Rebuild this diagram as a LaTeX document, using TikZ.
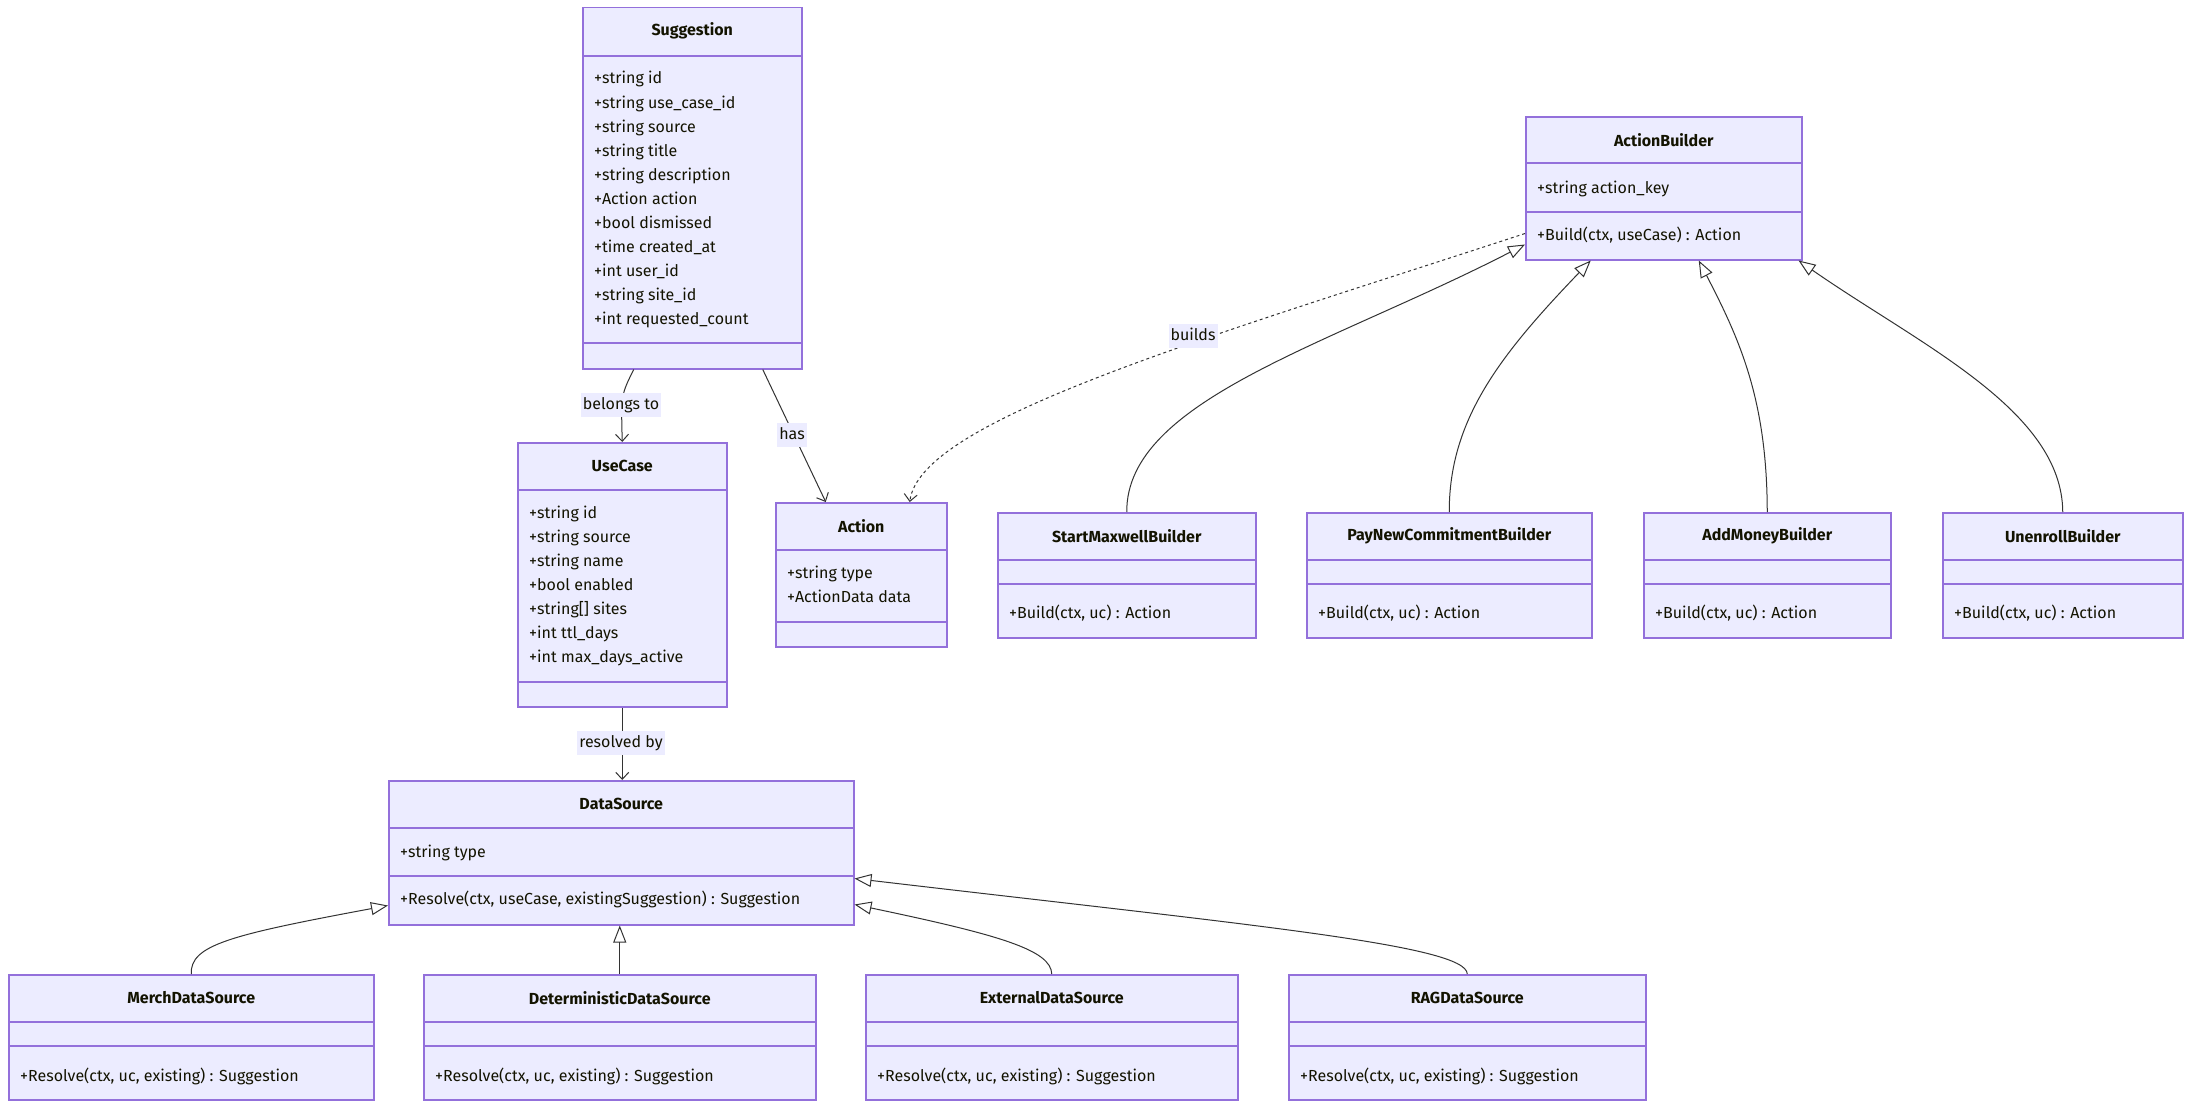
\documentclass[tikz,border=0pt]{standalone}
\usepackage{fontspec}
\setmainfont{Fira Sans}
\usetikzlibrary{arrows.meta}
\definecolor{clsfill}{HTML}{ECECFF}
\definecolor{clsline}{HTML}{9370DB}
\definecolor{edgeline}{HTML}{333333}
\definecolor{txtcol}{HTML}{131300}
\tikzset{
  clsbox/.style={draw=clsline,fill=clsfill,line width=1.5pt,anchor=north west,inner sep=0pt},
  divline/.style={draw=clsline,line width=1.5pt},
  clstitle/.style={font=\fontsize{16}{19}\selectfont\bfseries,text=txtcol},
  member/.style={font=\fontsize{16}{19}\selectfont,text=txtcol,anchor=west,
    text height=11pt,text depth=3pt,inner sep=0pt},
  edgelbl/.style={font=\fontsize{16}{19}\selectfont,text=txtcol,fill=clsfill,
    text height=11pt,text depth=3pt,inner xsep=2pt,inner ysep=5pt},
  assoc/.style={draw=edgeline,line width=1pt,-{Straight Barb[length=7pt,width=13pt]}},
  dep/.style={assoc,dash pattern=on 3pt off 3pt},
  inh/.style={draw=edgeline,line width=1pt,-{Triangle[open,length=17pt,width=13pt]}}
}
\begin{document}
\begin{tikzpicture}[x=1pt,y=-1pt]
\path[use as bounding box,fill=white] (0,0) rectangle (2192,1108);
\foreach \nm/\xx/\yy/\ww/\hh/\da/\db/\ttl in
  {sugg/582/7/219/361/56/343/Suggestion, usec/517/442/209/264/490/682/UseCase,
   act/775/502/171/144/550/622/Action, abld/1525/116/276/143/163/212/ActionBuilder,
   dsrc/388/780/465/144/828/876/DataSource,
   smax/997/512/258/125/560/584/StartMaxwellBuilder,
   paynew/1306/512/285/125/560/584/PayNewCommitmentBuilder,
   addm/1643/512/247/125/560/584/AddMoneyBuilder,
   unen/1942/512/240/125/560/584/UnenrollBuilder,
   merch/8/974/365/125/1022/1046/MerchDataSource,
   determ/423/974/392/125/1022/1046/DeterministicDataSource,
   ext/865/974/372/125/1022/1046/ExternalDataSource,
   rag/1288/974/357/125/1022/1046/RAGDataSource}
  {\node[clsbox,minimum width=\ww pt,minimum height=\hh pt] (\nm) at (\xx,\yy) {};
   \draw[divline] (\xx,\da) -- ++(\ww,0) (\xx,\db) -- ++(\ww,0);
   \path (\nm.north) ++(0,24) node[clstitle] (\nm-t) {\ttl};}
\foreach \txt [count=\i] in {+string id, +string use\_case\_id, +string source,
  +string title, +string description, +Action action, +bool dismissed,
  +time created\_at, +int user\_id, +string site\_id, +int requested\_count}
  \path (594,56+24*\i) node[member] (sugg-\i) {\txt};
\foreach \txt [count=\i] in {+string id, +string source, +string name,
  +bool enabled, +string[] sites, +int ttl\_days, +int max\_days\_active}
  \path (529,490+24*\i) node[member] (usec-\i) {\txt};
\foreach \txt [count=\i] in {+string type, +ActionData data}
  \path (787,550+24*\i) node[member] (act-\i) {\txt};
\path (1537,189) node[member] (abld-1) {+string action\_key}
  (1537,236) node[member] (abld-2) {+Build(ctx, useCase) : Action};
\path (400,853) node[member] (dsrc-1) {+string type}
  (400,900) node[member] (dsrc-2) {+Resolve(ctx, useCase, existingSuggestion) : Suggestion};
\foreach \nm in {smax,paynew,addm,unen}
  \path (\nm.south west) ++(12,-24) node[member] (\nm-m) {+Build(ctx, uc) : Action};
\foreach \nm in {merch,determ,ext,rag}
  \path (\nm.south west) ++(12,-23) node[member] (\nm-m) {+Resolve(ctx, uc, existing) : Suggestion};
\draw[assoc] ([xshift=-58.5pt]sugg.south) .. controls (621,395) .. (usec.north);
\draw[assoc] ([xshift=70.5pt]sugg.south) -- ([xshift=-35.5pt]act.north);
\draw[assoc] (usec.south) -- (usec.south |- dsrc.north);
\draw[dep] ([yshift=27pt]abld.south west) .. controls (1200,340) and (920,420) .. ([xshift=48.5pt]act.north);
\path (621,405) node[edgelbl] (belongs) {belongs to}
  (792,435) node[edgelbl] (has) {has}
  (621,743) node[edgelbl] (resolved) {resolved by}
  (1193,336) node[edgelbl] (builds) {builds};
\draw[inh] (smax.north) .. controls (1126,400) and (1330,345) .. ([yshift=16pt]abld.south west);
\draw[inh] (paynew.north) .. controls (1449,420) and (1500,355) .. ([xshift=-73pt]abld.south);
\draw[inh] (addm.north) .. controls (1767,400) and (1740,340) .. ([xshift=35pt]abld.south);
\draw[inh] (unen.north) .. controls (2062,410) and (1920,345) .. ([xshift=-4pt]abld.south east);
\draw[inh] (merch.north) .. controls (190,945) and (230,935) .. ([yshift=20pt]dsrc.south west);
\draw[inh] (determ.north) -- (determ.north |- dsrc.south);
\draw[inh] (ext.north) .. controls (1051,950) and (1000,935) .. ([yshift=21pt]dsrc.south east);
\draw[inh] (rag.north) .. controls (1467,945) and (1250,925) .. ([yshift=47pt]dsrc.south east);
\end{tikzpicture}
\end{document}
